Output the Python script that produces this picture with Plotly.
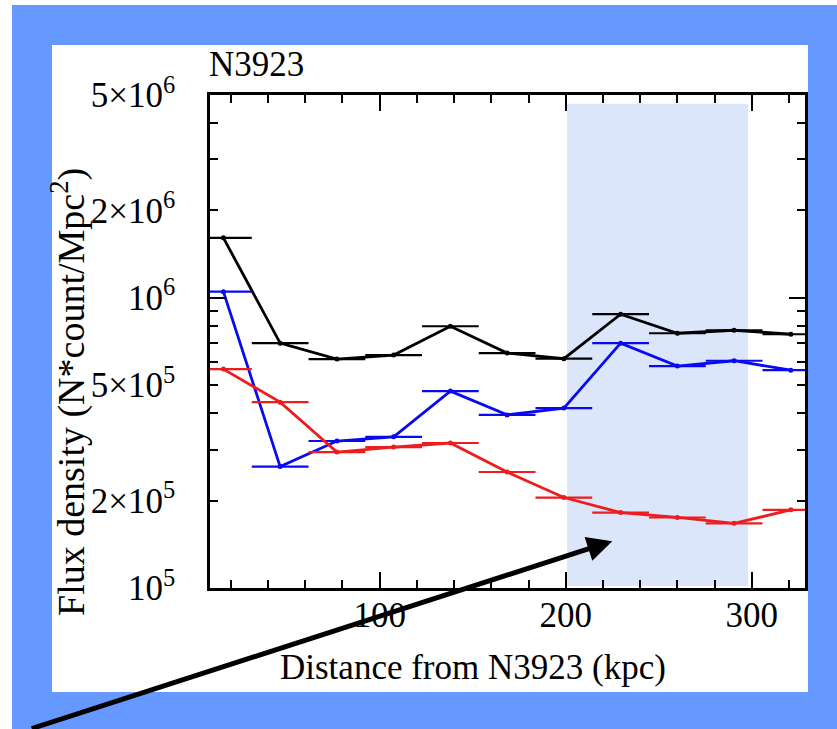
import math
import plotly.graph_objects as go

# Radial bins (kpc) and flux densities for the three profiles
distance_kpc = [16, 46.5, 77, 107.5, 138, 168.5, 199, 229.5, 260, 290.5, 321]
bin_half_width = 15.25
flux_black = [1.61e6, 6.98e5, 6.15e5, 6.35e5, 7.98e5, 6.45e5, 6.17e5, 8.78e5, 7.55e5, 7.73e5, 7.49e5]
flux_blue = [1.05e6, 2.62e5, 3.21e5, 3.32e5, 4.77e5, 3.95e5, 4.17e5, 6.98e5, 5.82e5, 6.07e5, 5.63e5]
flux_red = [5.68e5, 4.37e5, 2.94e5, 3.06e5, 3.16e5, 2.51e5, 2.05e5, 1.82e5, 1.75e5, 1.67e5, 1.86e5]

# Axis definitions
x_range = [8.8, 328.6]
y_range = [1e5, 5e6]
y_labelled = [1e5, 2e5, 5e5, 1e6, 2e6, 5e6]
y_labels = ["10<sup>5</sup>", "2×10<sup>5</sup>", "5×10<sup>5</sup>",
            "10<sup>6</sup>", "2×10<sup>6</sup>", "5×10<sup>6</sup>"]
y_small_ticks = [3e5, 4e5, 6e5, 7e5, 8e5, 9e5, 3e6, 4e6]
y_decades = [1e5, 1e6]
highlight_kpc = [200.7, 298]
arrow_tip = (225, 1.45e5)

title_text = "N3923"
x_title = "Distance from N3923 (kpc)"
y_title = "Flux density (N*count/Mpc<sup>2</sup>)"

W, H = 837, 729
L, R, T, B = 210, 32, 95, 141
PW, PH = W - L - R, H - T - B
FONT = "Liberation Serif"


def px_x(p):
    return (p - L) / PW


def px_y(p):
    return (H - B - p) / PH


series = [(flux_black, "#000000"), (flux_blue, "#0a0af0"), (flux_red, "#ee1c1c")]

fig = go.Figure()
for values, colour in series:
    fig.add_trace(go.Scatter(
        x=distance_kpc, y=values, mode="lines+markers",
        line=dict(color=colour, width=2.8),
        marker=dict(color=colour, size=5),
        error_x=dict(type="constant", value=bin_half_width, color=colour,
                     thickness=2.2, width=0),
        showlegend=False,
    ))

# empty trace that carries the overlay axis with the long decade ticks
fig.add_trace(go.Scatter(x=[], y=[], yaxis="y2", showlegend=False, hoverinfo="skip"))

log_range = [math.log10(y_range[0]), math.log10(y_range[1])]

fig.update_layout(
    width=W, height=H,
    margin=dict(l=L, r=R, t=T, b=B, pad=0),
    paper_bgcolor="white",
    plot_bgcolor="rgba(0,0,0,0)",
    font=dict(family=FONT, color="black", size=35),
    xaxis=dict(
        range=x_range, tick0=0, dtick=100,
        ticks="inside", ticklen=16, tickwidth=2, tickcolor="black",
        minor=dict(tick0=0, dtick=20, ticks="inside", ticklen=8, tickwidth=2, tickcolor="black"),
        showline=True, linewidth=2.5, linecolor="black", mirror="ticks",
        showgrid=False, zeroline=False,
        tickfont=dict(family=FONT, size=35, color="black"),
        ticklabelstandoff=-6,
    ),
    yaxis=dict(
        type="log", range=log_range,
        tickmode="array", tickvals=y_labelled, ticktext=y_labels,
        ticks="inside", ticklen=8, tickwidth=2, tickcolor="black",
        minor=dict(tickmode="array", tickvals=y_small_ticks, ticks="inside",
                   ticklen=8, tickwidth=2, tickcolor="black"),
        showline=True, linewidth=2.5, linecolor="black", mirror="ticks",
        showgrid=False, zeroline=False,
        tickfont=dict(family=FONT, size=35, color="black"),
        ticklabelstandoff=25,
    ),
    yaxis2=dict(
        type="log", range=log_range, overlaying="y", side="left",
        tickmode="array", tickvals=y_decades,
        ticks="inside", ticklen=16, tickwidth=2, tickcolor="black",
        showticklabels=False, showline=False, showgrid=False, zeroline=False,
        mirror="ticks",
    ),
    shapes=[
        dict(type="rect", xref="paper", yref="paper",
             x0=px_x(12), x1=px_x(W + 5), y0=px_y(H + 5), y1=px_y(5),
             fillcolor="#6699ff", line=dict(width=0), layer="below"),
        dict(type="rect", xref="paper", yref="paper",
             x0=px_x(52), x1=px_x(808), y0=px_y(692), y1=px_y(45),
             fillcolor="white", line=dict(width=0), layer="below"),
        dict(type="rect", xref="x", yref="y domain",
             x0=highlight_kpc[0], x1=highlight_kpc[1], y0=0.004, y1=0.982,
             fillcolor="#dbe6fb", line=dict(width=0), layer="below"),
    ],
    annotations=[
        dict(text=title_text, xref="paper", yref="paper", x=px_x(207), y=px_y(65),
             xanchor="left", yanchor="middle", showarrow=False,
             font=dict(family=FONT, size=35, color="black")),
        dict(text=x_title, xref="x", yref="paper", x=150, y=px_y(667),
             xanchor="center", yanchor="middle", showarrow=False,
             font=dict(family=FONT, size=35, color="black")),
        dict(text=y_title, xref="paper", yref="paper", x=px_x(68), y=px_y(392),
             xanchor="center", yanchor="middle", textangle=-90, showarrow=False,
             font=dict(family=FONT, size=38, color="black")),
        dict(text="", xref="x", yref="y", x=arrow_tip[0], y=math.log10(arrow_tip[1]),
             ax=-582, ay=196, showarrow=True, arrowhead=2, arrowsize=1,
             arrowwidth=5, arrowcolor="black"),
    ],
)

fig.write_html("out.html")
